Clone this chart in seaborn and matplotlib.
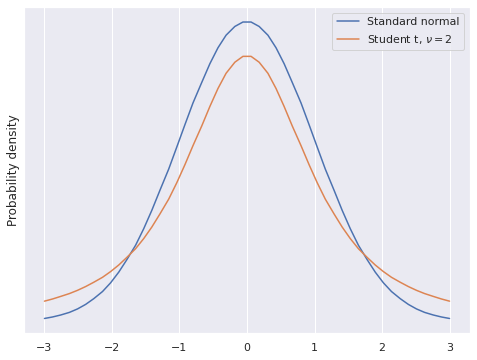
import matplotlib

matplotlib.use("Agg")
import matplotlib.pyplot as plt
import pandas as pd
import seaborn as sns

# x grid, left half (the right half mirrors it)
x_left = [-3.00, -2.88, -2.76, -2.63, -2.51, -2.39, -2.27, -2.14, -2.02, -1.90,
          -1.78, -1.65, -1.53, -1.41, -1.29, -1.16, -1.04, -0.92, -0.80, -0.67,
          -0.55, -0.43, -0.31, -0.18, -0.06]
x_right = [0.06, 0.18, 0.31, 0.43, 0.55, 0.67, 0.80, 0.92, 1.04, 1.16,
           1.29, 1.41, 1.53, 1.65, 1.78, 1.90, 2.02, 2.14, 2.27, 2.39,
           2.51, 2.63, 2.76, 2.88, 3.00]

normal_left = [0.0044, 0.0064, 0.0090, 0.0125, 0.0171, 0.0231, 0.0307, 0.0402, 0.0518, 0.0659,
               0.0825, 0.1017, 0.1236, 0.1480, 0.1746, 0.2028, 0.2321, 0.2617, 0.2907, 0.3180,
               0.3428, 0.3640, 0.3807, 0.3923, 0.3982]
normal_right = [0.3982, 0.3923, 0.3807, 0.3640, 0.3428, 0.3180, 0.2907, 0.2617, 0.2321, 0.2028,
                0.1746, 0.1480, 0.1236, 0.1017, 0.0825, 0.0659, 0.0518, 0.0402, 0.0307, 0.0231,
                0.0171, 0.0125, 0.0090, 0.0064, 0.0044]

student_left = [0.0274, 0.0303, 0.0337, 0.0375, 0.0418, 0.0468, 0.0525, 0.0591, 0.0667, 0.0754,
                0.0855, 0.0971, 0.1105, 0.1258, 0.1432, 0.1629, 0.1847, 0.2086, 0.2340, 0.2602,
                0.2860, 0.3099, 0.3301, 0.3448, 0.3526]
student_right = [0.3526, 0.3448, 0.3301, 0.3099, 0.2860, 0.2602, 0.2340, 0.2086, 0.1847, 0.1629,
                 0.1432, 0.1258, 0.1105, 0.0971, 0.0855, 0.0754, 0.0667, 0.0591, 0.0525, 0.0468,
                 0.0418, 0.0375, 0.0337, 0.0303, 0.0274]

x = x_left + x_right
df = pd.DataFrame({
    "x": x + x,
    "density": normal_left + normal_right + student_left + student_right,
    "dist": ["Standard normal"] * len(x) + [r"Student t, $\nu = 2$"] * len(x),
})

sns.set_theme(style="darkgrid")
fig, ax = plt.subplots(figsize=(477 / 72, 5), dpi=72)
sns.lineplot(data=df, x="x", y="density", hue="dist", ax=ax, linewidth=1.5)
ax.set_yticks([])
ax.set_xlabel("")
ax.set_ylabel("Probability density")
ax.legend(loc="upper right")
fig.tight_layout(pad=0.6)
fig.savefig("out.png", dpi=72)
